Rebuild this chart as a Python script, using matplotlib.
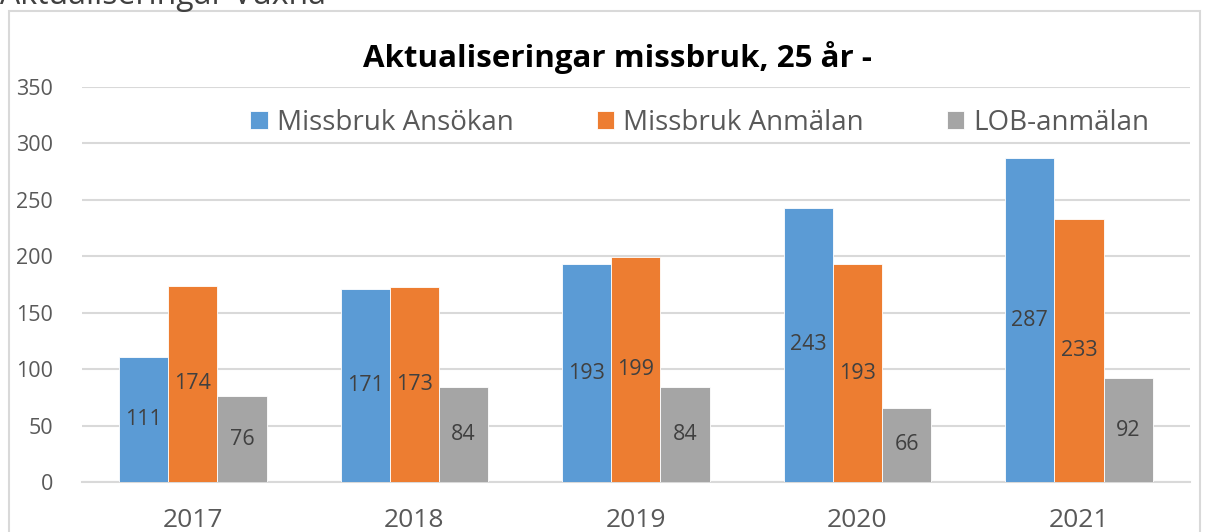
import matplotlib.pyplot as plt
import matplotlib.patches as mpatches
import numpy as np

# Data
years = ["2017", "2018", "2019", "2020", "2021"]
ansokan = [111, 171, 193, 243, 287]
anmalan = [174, 173, 199, 193, 233]
lob = [76, 84, 84, 66, 92]
series_names = ["Missbruk Ansökan", "Missbruk Anmälan", "LOB-anmälan"]
colors = ["#5B9BD5", "#ED7D31", "#A5A5A5"]

plt.rcParams['font.family'] = ['Open Sans', 'DejaVu Sans']

fig = plt.figure(figsize=(12.08, 5.32), dpi=100)
ax = fig.add_axes([0.0679, 0.094, 0.917, 0.7425])

# outer chart border
fig.patches.append(mpatches.Rectangle((9 / 1208, -0.01), 1191 / 1208, 1 - 11 / 532 + 0.01,
                                      transform=fig.transFigure, fill=False,
                                      edgecolor="#d9d9d9", lw=1.5))
# cut-off heading above the chart
fig.text(0.0, 1 - 4 / 532, "Aktualiseringar Vuxna", fontsize=23, color="#404040",
         ha="left", va="baseline")

x = np.arange(len(years))
w = 0.222
for i, (vals, name, c) in enumerate(zip([ansokan, anmalan, lob], series_names, colors)):
    pos = x + (i - 1) * w
    ax.bar(pos, vals, w, color=c, label=name, edgecolor="white", lw=0.6, zorder=3)
    for p, v in zip(pos, vals):
        ax.text(p, v / 2, str(v), ha="center", va="center", fontsize=15.5,
                color="#404040", zorder=4)

ax.set_ylim(0, 350)
ax.set_xlim(-0.5, len(years) - 0.5)
ax.set_yticks(range(0, 351, 50))
ax.set_xticks(x)
ax.set_xticklabels(years, fontsize=19, color="#595959")
ax.tick_params(axis="y", labelsize=15.5, colors="#595959", length=0, pad=21)
ax.tick_params(axis="x", length=0, pad=19)
ax.grid(axis="y", color="#d9d9d9", lw=1.5, zorder=0)
for s in ["top", "right", "left"]:
    ax.spines[s].set_visible(False)
ax.spines["bottom"].set_color("#d9d9d9")
ax.spines["bottom"].set_linewidth(1.5)

fig.text(617 / 1208, 1 - 57 / 532, "Aktualiseringar missbruk, 25 år -", fontsize=22.5,
         fontweight="bold", ha="center", va="center", color="black")

fig.legend(loc="center", bbox_to_anchor=(700 / 1208, 1 - 123 / 532), ncol=3,
           frameon=False, fontsize=20, handlelength=0.62, handleheight=0.62,
           columnspacing=3.0, handletextpad=0.33, labelcolor="#595959")

fig.savefig("out.png", dpi=100)
